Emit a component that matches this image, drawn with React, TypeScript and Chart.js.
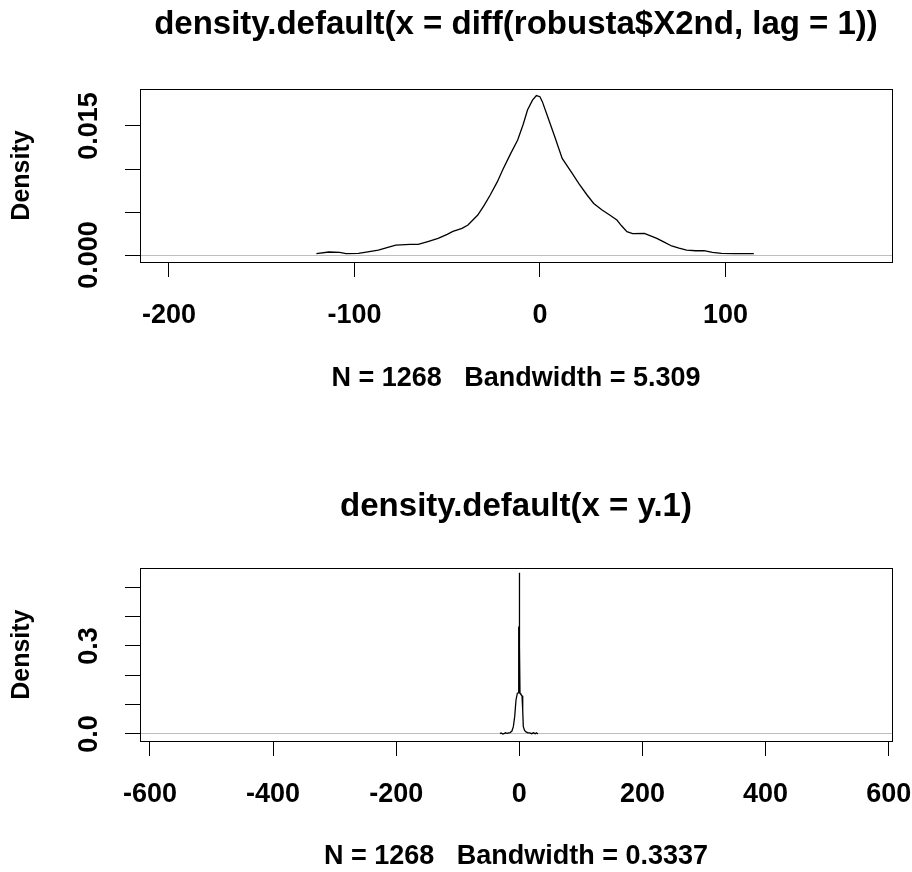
import { useEffect, useRef } from 'react';
import { Chart, registerables } from 'chart.js';

Chart.register(...registerables);

const FONT_FAMILY = '"Liberation Sans", Arial, Helvetica, sans-serif';

// ---------- Top panel data ----------
const topTitle = 'density.default(x = diff(robusta$X2nd, lag = 1))';
const topSub = 'N = 1268   Bandwidth = 5.309';
const topX = [
  -120.5, -113.8, -108, -104.5, -97.8, -92, -87.1, -82, -77.7, -70, -65.6, -60,
  -54.9, -50, -46.9, -42, -38.8, -33.5, -30, -26.8, -23, -20.1, -16, -12, -9,
  -6.7, -4, -1.9, 0, 1.3, 4, 8, 12, 17.4, 21, 25.4, 29, 33.5, 38, 41.5, 44,
  46.9, 50, 56.3, 60, 63, 67, 71, 75, 79.1, 84, 88.5, 93, 97.9, 105, 115.3,
];
const topY = [
  0.00016, 0.00035, 0.0003, 0.00016, 0.0002, 0.0004, 0.00058, 0.0009, 0.00116,
  0.00124, 0.00124, 0.0016, 0.00194, 0.0024, 0.00275, 0.0031, 0.00349, 0.00465,
  0.0058, 0.00698, 0.0085, 0.00988, 0.0117, 0.01337, 0.0152, 0.01686, 0.018,
  0.01853, 0.0184, 0.01783, 0.0162, 0.01376, 0.01124, 0.0095, 0.0083, 0.00698,
  0.006, 0.00523, 0.0046, 0.00407, 0.0034, 0.00271, 0.0025, 0.00252, 0.0022,
  0.00194, 0.0015, 0.00105, 0.0008, 0.00058, 0.0005, 0.0005, 0.0003, 0.0002,
  0.00016, 0.00016,
];
const topXTicks = [-200, -100, 0, 100];
const topXTickLabels = ['-200', '-100', '0', '100'];
const topYTicks = [0, 0.005, 0.01, 0.015];
const topYTickLabels = ['0.000', '', '', '0.015'];
const topXRange = [-215.6, 189.8];
const topYRange = [-0.00081, 0.0193];

// ---------- Bottom panel data ----------
const botTitle = 'density.default(x = y.1)';
const botSub = 'N = 1268   Bandwidth = 0.3337';
const botX = [
  -31, -29.7, -27, -25, -22.7, -20, -17, -15, -12, -9.7, -7.5, -5.4, -3.2, -1.8,
  -1.0, -0.5, 0, 0.5, 1.1, 2.5, 4.4, 5.5, 6.5, 8.5, 10.9, 14, 17, 20, 23, 26, 28, 30,
];
const botY = [
  0, 0.004, 0, 0.001, 0.004, 0.002, 0.004, 0.005, 0.01, 0.025, 0.06, 0.116, 0.139,
  0.14, 0.366, 0.3, 0.55, 0.3, 0.139, 0.135, 0.13, 0.08, 0.025, 0.012, 0.007, 0.004,
  0.004, 0.001, 0.004, 0.001, 0.004, 0,
];
const botXTicks = [-600, -400, -200, 0, 200, 400, 600];
const botXTickLabels = ['-600', '-400', '-200', '0', '200', '400', '600'];
const botYTicks = [0, 0.1, 0.2, 0.3, 0.4, 0.5];
const botYTickLabels = ['0.0', '', '', '0.3', '', ''];
const botXRange = [-616.1, 605.3];
const botYRange = [-0.02386, 0.5648];

const yLabel = 'Density';

interface PanelProps {
  title: string;
  sub: string;
  xs: number[];
  ys: number[];
  xTicks: number[];
  xTickLabels: string[];
  yTicks: number[];
  yTickLabels: string[];
  xRange: number[];
  yRange: number[];
  titleTop: number;
  titleBottom: number;
  xAxisHeight: number;
  subBottom: number;
}

const boxPlugin = {
  id: 'rbox',
  afterDatasetsDraw(chart: any) {
    const { ctx, chartArea: a } = chart;
    ctx.save();
    ctx.strokeStyle = '#000';
    ctx.lineWidth = 1;
    ctx.strokeRect(
      Math.round(a.left) + 0.5,
      Math.round(a.top) + 0.5,
      Math.round(a.right - a.left),
      Math.round(a.bottom - a.top)
    );
    ctx.restore();
  },
};

function measure(text: string, font: string) {
  const c = document.createElement('canvas').getContext('2d');
  if (!c) return text.length * 15;
  c.font = font;
  return c.measureText(text).width;
}

function Panel(p: PanelProps) {
  const ref = useRef<HTMLCanvasElement | null>(null);
  useEffect(() => {
    if (!ref.current) return;
    const tickFont = { family: FONT_FAMILY, size: 27, weight: 'bold' as const, lineHeight: 1 };
    const tickFontStr = `bold 27px ${FONT_FAMILY}`;
    const widest = Math.max(...p.yTickLabels.map((l) => (l ? measure(l, tickFontStr) : 0)));
    const yTickPadding = 35.5 - widest / 2;
    const data = p.xs.map((x, i) => ({ x, y: p.ys[i] }));

    const chart = new Chart(ref.current, {
      type: 'line',
      data: {
        datasets: [
          {
            data,
            borderColor: '#000',
            borderWidth: 1.3,
            pointRadius: 0,
            tension: 0,
            fill: false,
          },
        ],
      },
      options: {
        animation: false,
        responsive: false,
        maintainAspectRatio: false,
        layout: { padding: { left: 0, right: 20, top: 0, bottom: 0 } },
        plugins: {
          legend: { display: false },
          tooltip: { enabled: false },
          title: {
            display: true,
            text: p.title,
            fullSize: false,
            color: '#000',
            font: { family: FONT_FAMILY, size: 33, weight: 'bold', lineHeight: 1 },
            padding: { top: p.titleTop, bottom: p.titleBottom },
          },
        },
        scales: {
          x: {
            type: 'linear',
            position: 'bottom',
            min: p.xRange[0],
            max: p.xRange[1],
            border: { display: false },
            grid: {
              display: true,
              drawOnChartArea: false,
              drawTicks: true,
              tickLength: 15,
              tickColor: '#000',
              tickWidth: 1,
            },
            ticks: {
              autoSkip: false,
              maxRotation: 0,
              minRotation: 0,
              padding: 25,
              color: '#000',
              font: tickFont,
              callback: (v: any) => {
                const i = p.xTicks.indexOf(Number(v));
                return i >= 0 ? p.xTickLabels[i] : '';
              },
            },
            title: {
              display: true,
              text: p.sub,
              color: '#000',
              font: tickFont,
              padding: { top: 0, bottom: p.subBottom },
            },
            afterBuildTicks: (s: any) => {
              s.ticks = p.xTicks.map((v) => ({ value: v }));
            },
            afterFit: (s: any) => {
              s.height = p.xAxisHeight;
              s.paddingLeft = 0;
              s.paddingRight = 0;
            },
          },
          y: {
            type: 'linear',
            position: 'left',
            min: p.yRange[0],
            max: p.yRange[1],
            border: { display: false },
            grid: {
              display: true,
              drawOnChartArea: true,
              drawTicks: true,
              tickLength: 15,
              tickColor: '#000',
              tickWidth: 1,
              lineWidth: 1,
              color: (ctx: any) =>
                ctx.tick && ctx.tick.value === 0 ? '#bebebe' : 'rgba(0,0,0,0)',
            },
            ticks: {
              autoSkip: false,
              minRotation: 90,
              maxRotation: 90,
              crossAlign: 'center',
              padding: yTickPadding,
              color: '#000',
              font: tickFont,
              callback: (v: any) => {
                const i = p.yTicks.findIndex((t) => Math.abs(t - Number(v)) < 1e-9);
                return i >= 0 ? p.yTickLabels[i] : '';
              },
            },
            title: {
              display: true,
              text: yLabel,
              color: '#000',
              font: { family: FONT_FAMILY, size: 25, weight: 'bold', lineHeight: 1 },
              padding: { top: 10, bottom: 0 },
            },
            afterBuildTicks: (s: any) => {
              s.ticks = p.yTicks.map((v) => ({ value: v }));
            },
            afterFit: (s: any) => {
              s.width = 140;
              s.paddingTop = 0;
              s.paddingBottom = 0;
            },
          },
        },
      } as any,
      plugins: [boxPlugin],
    });
    return () => chart.destroy();
  }, []);
  return <canvas ref={ref} width={912} height={436} style={{ display: 'block', width: 912, height: 436 }} />;
}

export default function App() {
  return (
    <div
      style={{
        position: 'fixed',
        left: 0,
        top: 0,
        width: 912,
        height: 872,
        background: '#fff',
      }}
    >
      <Panel
        title={topTitle}
        sub={topSub}
        xs={topX}
        ys={topY}
        xTicks={topXTicks}
        xTickLabels={topXTickLabels}
        yTicks={topYTicks}
        yTickLabels={topYTickLabels}
        xRange={topXRange}
        yRange={topYRange}
        titleTop={8.1}
        titleBottom={47.9}
        xAxisHeight={174}
        subBottom={43.9}
      />
      <Panel
        title={botTitle}
        sub={botSub}
        xs={botX}
        ys={botY}
        xTicks={botXTicks}
        xTickLabels={botXTickLabels}
        yTicks={botYTicks}
        yTickLabels={botYTickLabels}
        xRange={botXRange}
        yRange={botYRange}
        titleTop={54.4}
        titleBottom={44.9}
        xAxisHeight={131}
        subBottom={1.5}
      />
    </div>
  );
}
